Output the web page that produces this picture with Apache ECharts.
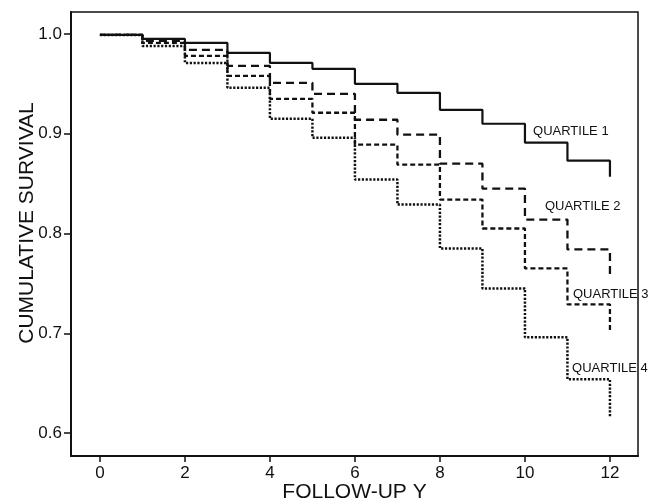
<!DOCTYPE html>
<html>
<head>
<meta charset="utf-8">
<script src="https://cdn.jsdelivr.net/npm/echarts@6/dist/echarts.min.js"></script>
<style>
html,body{margin:0;padding:0;background:#fff;}
#c{width:660px;height:502px;}
</style>
</head>
<body>
<div id="c"></div>
<script>
// Follow-up years (step positions)
const years = [0,1,2,3,4,5,6,7,8,9,10,11,12];
// Cumulative survival per quartile (value holding from that year; last = final drop at year 12)
const quartile1 = [0.999,0.995,0.991,0.981,0.971,0.965,0.950,0.941,0.924,0.910,0.891,0.873,0.857];
const quartile2 = [0.999,0.993,0.984,0.968,0.951,0.940,0.914,0.899,0.870,0.845,0.814,0.784,0.758];
const quartile3 = [0.999,0.991,0.978,0.958,0.935,0.921,0.889,0.869,0.834,0.805,0.765,0.729,0.703];
const quartile4 = [0.999,0.988,0.971,0.946,0.915,0.896,0.854,0.829,0.785,0.745,0.696,0.654,0.615];
const seriesNames = ['QUARTILE 1','QUARTILE 2','QUARTILE 3','QUARTILE 4'];
const xTicks = [0,2,4,6,8,10,12];
const yTicks = [0.6,0.7,0.8,0.9,1.0];

const FONT = '"Liberation Sans", Arial, Helvetica, sans-serif';
const INK = '#111';

const chart = echarts.init(document.getElementById('c'), null, {renderer:'canvas'});

function pairs(vals){ return years.map((y,i)=>[y, vals[i]]); }

const styles = [
  {type:'solid', width:2.2},
  {type:[8,5], width:2.3},
  {type:[5,3], width:2.3},
  {type:[2.2,1.6], width:2.5}
];
const labelAt = [[10.19,0.902],[10.47,0.8275],[11.13,0.739],[11.11,0.665]];
const allData = [quartile1, quartile2, quartile3, quartile4];

const series = allData.map((vals, i) => ({
  name: seriesNames[i],
  type: 'line',
  step: 'end',
  data: pairs(vals),
  showSymbol: false,
  symbol: 'none',
  lineStyle: {color: INK, width: styles[i].width, type: styles[i].type, cap: 'butt'},
  animation: false,
  silent: true,
  markPoint: {
    symbol: 'circle', symbolSize: 0, silent: true, animation: false,
    data: [{coord: labelAt[i]}],
    label: {show: true, position: 'right', distance: 0, formatter: seriesNames[i],
            color: INK, fontFamily: FONT, fontSize: 13}
  }
}));

chart.setOption({
  backgroundColor: '#fff',
  animation: false,
  grid: {left: 71, top: 12, right: 22, bottom: 46, containLabel: false, outerBoundsMode: 'none',
         show: true, borderColor: INK, borderWidth: 1.5, backgroundColor: 'transparent'},
  xAxis: {
    type: 'value', min: -0.68, max: 12.66,
    name: 'FOLLOW-UP Y', nameLocation: 'middle', nameGap: 26, nameMoveOverlap: false,
    nameTextStyle: {color: INK, fontFamily: FONT, fontSize: 21},
    axisLine: {show: true, onZero: false, lineStyle: {color: INK, width: 2}},
    axisTick: {show: true, length: 6, lineStyle: {color: INK, width: 1.5}, customValues: xTicks},
    axisLabel: {color: INK, fontFamily: FONT, fontSize: 17, margin: 9, customValues: xTicks, formatter: v => String(v)},
    splitLine: {show: false}
  },
  yAxis: {
    type: 'value', min: 0.577, max: 1.022,
    name: 'CUMULATIVE SURVIVAL', nameLocation: 'middle', nameGap: 33, nameMoveOverlap: false,
    nameTextStyle: {color: INK, fontFamily: FONT, fontSize: 21, padding: [0,0,0,22]},
    axisLine: {show: true, onZero: false, lineStyle: {color: INK, width: 2}},
    axisTick: {show: true, length: 7, lineStyle: {color: INK, width: 1.5}, customValues: yTicks},
    axisLabel: {color: INK, fontFamily: FONT, fontSize: 17, margin: 9, customValues: yTicks, formatter: v => v.toFixed(1)},
    splitLine: {show: false}
  },
  series: series
});
</script>
</body>
</html>
